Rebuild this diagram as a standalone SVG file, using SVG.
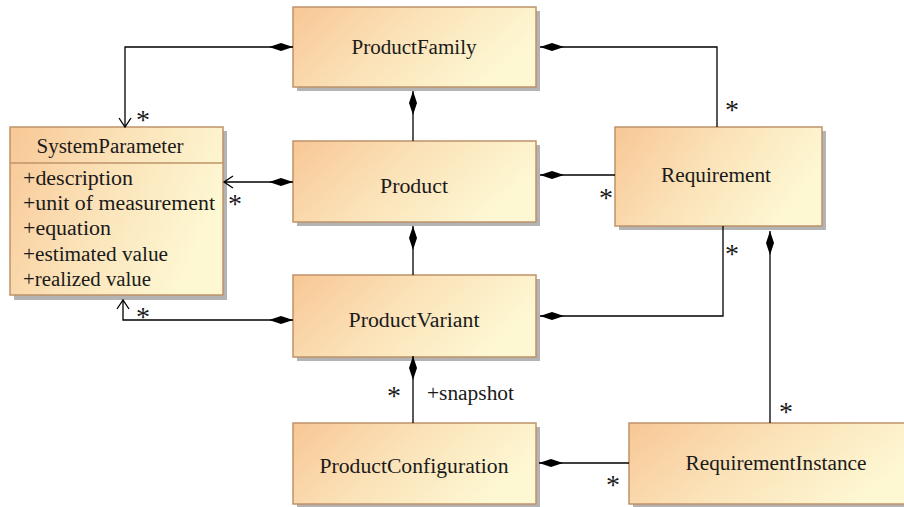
<svg xmlns="http://www.w3.org/2000/svg" width="904" height="507" viewBox="0 0 904 507">
  <defs>
    <linearGradient id="fillGrad" x1="0" y1="0" x2="1" y2="0.35">
      <stop offset="0" stop-color="#f8c795"/>
      <stop offset="0.5" stop-color="#fbe2b8"/>
      <stop offset="1" stop-color="#fdf7d2"/>
    </linearGradient>
    <marker id="diamond" markerUnits="userSpaceOnUse" markerWidth="26" markerHeight="10" refX="0" refY="5" orient="auto" overflow="visible">
      <path d="M0,5 L12,1 L24,5 L12,9 Z" fill="#000"/>
    </marker>
    <marker id="openArrow" markerUnits="userSpaceOnUse" markerWidth="12" markerHeight="14" refX="10" refY="7" orient="auto" overflow="visible">
      <path d="M1,1 L10,7 L1,13" fill="none" stroke="#000" stroke-width="1.3"/>
    </marker>
  </defs>
  <style>
    .shadow { fill: #b3b3b3; }
    .box { fill: url(#fillGrad); stroke: #bf9369; stroke-width: 1.5; }
    .label { font-family: "Liberation Serif", "DejaVu Serif", serif; font-size: 20px; fill: #1a1a1a; text-anchor: middle; }
    .attr { font-family: "Liberation Serif", "DejaVu Serif", serif; font-size: 20px; fill: #1a1a1a; }
    .mult { font-family: "Liberation Serif", "DejaVu Serif", serif; font-size: 28px; fill: #1a1a1a; text-anchor: middle; }
    .conn { fill: none; stroke: #000; stroke-width: 1.3; }
    .comp { marker-start: url(#diamond); }
    .nav { marker-end: url(#openArrow); }
  </style>

  <!-- Classes -->
  <g id="ProductFamily">
    <rect class="shadow" x="297" y="11" width="243" height="80"/>
    <rect class="box" x="293" y="7" width="243" height="80"/>
    <text class="label" x="414" y="54" textLength="125" lengthAdjust="spacingAndGlyphs">ProductFamily</text>
  </g>

  <g id="Product">
    <rect class="shadow" x="297" y="145" width="243" height="81"/>
    <rect class="box" x="293" y="141" width="243" height="81"/>
    <text class="label" x="414" y="193" textLength="68" lengthAdjust="spacingAndGlyphs">Product</text>
  </g>

  <g id="ProductVariant">
    <rect class="shadow" x="297" y="279" width="243" height="82"/>
    <rect class="box" x="293" y="275" width="243" height="82"/>
    <text class="label" x="414" y="327" textLength="131" lengthAdjust="spacingAndGlyphs">ProductVariant</text>
  </g>

  <g id="ProductConfiguration">
    <rect class="shadow" x="297" y="427" width="243" height="81"/>
    <rect class="box" x="293" y="423" width="243" height="81"/>
    <text class="label" x="414" y="473" textLength="189" lengthAdjust="spacingAndGlyphs">ProductConfiguration</text>
  </g>

  <g id="Requirement">
    <rect class="shadow" x="619" y="131" width="207" height="99"/>
    <rect class="box" x="615" y="127" width="207" height="99"/>
    <text class="label" x="716" y="182" textLength="110" lengthAdjust="spacingAndGlyphs">Requirement</text>
  </g>

  <g id="RequirementInstance">
    <rect class="shadow" x="633" y="427" width="290" height="81"/>
    <rect class="box" x="629" y="423" width="290" height="81"/>
    <text class="label" x="776" y="470" textLength="181" lengthAdjust="spacingAndGlyphs">RequirementInstance</text>
  </g>

  <g id="SystemParameter">
    <rect class="shadow" x="14" y="131" width="213" height="169"/>
    <rect class="box" x="10" y="127" width="213" height="168"/>
    <line x1="10" y1="163" x2="223" y2="163" stroke="#bf9369" stroke-width="1.5"/>
    <text class="label" x="110" y="153" textLength="147" lengthAdjust="spacingAndGlyphs">SystemParameter</text>
    <text class="attr" x="23" y="185" textLength="110" lengthAdjust="spacingAndGlyphs">+description</text>
    <text class="attr" x="23" y="210" textLength="192" lengthAdjust="spacingAndGlyphs">+unit of measurement</text>
    <text class="attr" x="23" y="235" textLength="88" lengthAdjust="spacingAndGlyphs">+equation</text>
    <text class="attr" x="23" y="261" textLength="145" lengthAdjust="spacingAndGlyphs">+estimated value</text>
    <text class="attr" x="23" y="286" textLength="128" lengthAdjust="spacingAndGlyphs">+realized value</text>
  </g>

  <!-- Associations -->
  <g id="connectors">
    <path class="conn comp nav" d="M293,47 H125 V127"/>
    <path class="conn comp" d="M540,47 H717 V127"/>
    <path class="conn comp" d="M413,91 V141"/>
    <path class="conn comp nav" d="M293,182 H224"/>
    <path class="conn comp" d="M540,175 H615"/>
    <path class="conn comp" d="M413,226 V275"/>
    <path class="conn comp nav" d="M293,320 H123 V300"/>
    <path class="conn comp" d="M540,316 H723 V226"/>
    <path class="conn comp" d="M770,231 V423"/>
    <path class="conn comp" d="M413,356 V423"/>
    <path class="conn comp" d="M539,463 H629"/>

    <text class="mult" x="143" y="129">*</text>
    <text class="mult" x="732" y="119">*</text>
    <text class="mult" x="235" y="213">*</text>
    <text class="mult" x="606" y="207">*</text>
    <text class="mult" x="143" y="326">*</text>
    <text class="mult" x="732" y="263">*</text>
    <text class="mult" x="394" y="405">*</text>
    <text class="mult" x="786" y="421">*</text>
    <text class="mult" x="613" y="494">*</text>
    <text class="attr" x="427" y="400" textLength="87" lengthAdjust="spacingAndGlyphs">+snapshot</text>
  </g>
</svg>
